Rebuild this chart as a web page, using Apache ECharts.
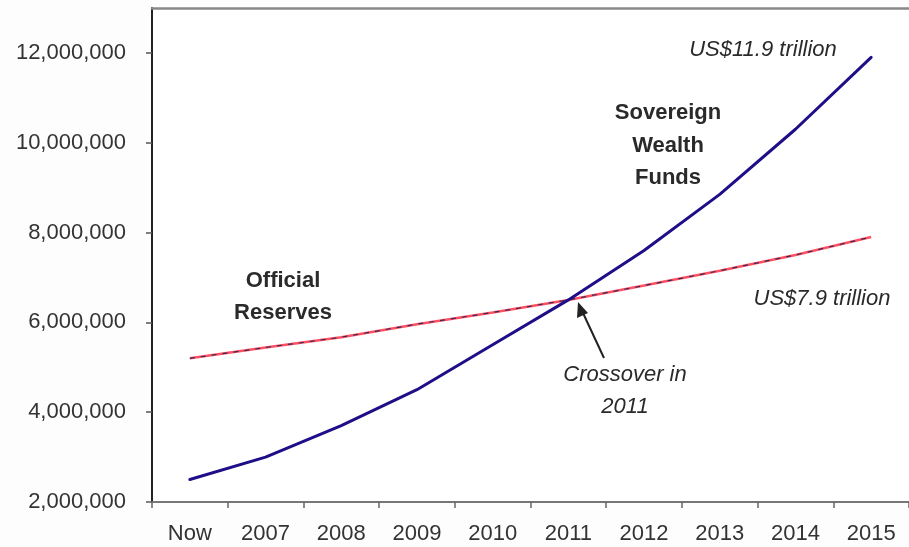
<!DOCTYPE html>
<html>
<head>
<meta charset="utf-8">
<script src="https://cdn.jsdelivr.net/npm/echarts@6/dist/echarts.min.js"></script>
<style>
html,body{margin:0;padding:0;background:#fdfdfd;}
#c{width:909px;height:547px;}
</style>
</head>
<body>
<div id="c"></div>
<script>
var categories = ['Now','2007','2008','2009','2010','2011','2012','2013','2014','2015'];
var sovereignWealthFunds = [2500000,3000000,3700000,4500000,5500000,6500000,7600000,8850000,10300000,11900000];
var officialReserves = [5200000,5440000,5670000,5960000,6220000,6500000,6820000,7150000,7500000,7900000];
var yMin = 2000000, yMax = 13000000, yStep = 2000000;

var chart = echarts.init(document.getElementById('c'), null, {renderer:'canvas'});
var FONT = '"Liberation Sans", Arial, sans-serif';
function txt(t, x, y, font){
  return {type:'text', z:100, style:{text:t, x:x, y:y, align:'center', verticalAlign:'middle', font:font, fill:'#2a2a2a'}};
}
var italic = 'italic 22px ' + FONT;
var bold = 'bold 22px ' + FONT;
chart.setOption({
  animation:false,
  backgroundColor:'#fdfdfd',
  grid:{left:152, right:-1, top:8, bottom:45, show:true, borderWidth:0, backgroundColor:'#ffffff'},
  xAxis:[{
    type:'category', data:categories, boundaryGap:true,
    axisLine:{lineStyle:{color:'#777', width:2}},
    axisTick:{show:true, length:6, lineStyle:{color:'#666', width:1.5}},
    axisLabel:{color:'#333', fontSize:22, fontFamily:FONT, margin:21},
    splitLine:{show:false}
  },{
    type:'category', data:categories, position:'top', boundaryGap:true,
    axisLine:{show:true, lineStyle:{color:'#888', width:2.5}},
    axisTick:{show:false}, axisLabel:{show:false}, splitLine:{show:false}
  }],
  yAxis:{
    type:'value', min:yMin, max:yMax, interval:yStep,
    axisLine:{show:true, lineStyle:{color:'#222', width:2}},
    axisTick:{show:true, length:6, lineStyle:{color:'#555', width:1.5}},
    axisLabel:{color:'#333', fontSize:22, fontFamily:FONT, margin:26, showMaxLabel:false,
      formatter:function(v){return v.toLocaleString('en-US');}},
    splitLine:{show:false}
  },
  series:[
    {name:'Official Reserves', type:'line', data:officialReserves, smooth:false, symbol:'none',
      lineStyle:{color:'#ff5062', width:2.5}},
    {name:'Official Reserves (dash)', type:'line', data:officialReserves, smooth:false, symbol:'none',
      lineStyle:{color:'#3a2a5a', width:1.2, type:[5,6]}},
    {name:'Sovereign Wealth Funds', type:'line', data:sovereignWealthFunds, smooth:false, symbol:'none',
      lineStyle:{color:'#1e0f88', width:3, join:'round', cap:'round'}}
  ],
  graphic:[
    txt('US$11.9 trillion', 763, 50, italic),
    txt('Sovereign', 668, 113, bold),
    txt('Wealth', 668, 146, bold),
    txt('Funds', 668, 178, bold),
    txt('Official', 283, 281, bold),
    txt('Reserves', 283, 313, bold),
    txt('US$7.9 trillion', 822, 299, italic),
    txt('Crossover in', 625, 375, italic),
    txt('2011', 625, 407, italic),
    {type:'line', z:100, shape:{x1:604, y1:358, x2:583, y2:313}, style:{stroke:'#222', lineWidth:2}},
    {type:'polygon', z:100, shape:{points:[[578,302],[577,318],[588,313]]}, style:{fill:'#222'}}
  ]
});
</script>
</body>
</html>
